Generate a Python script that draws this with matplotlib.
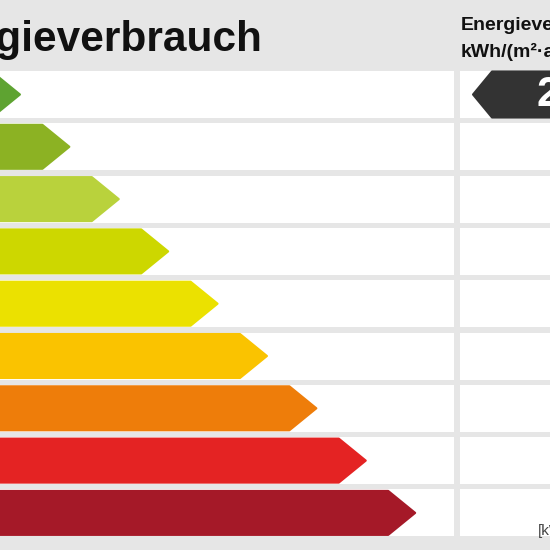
import matplotlib.pyplot as plt
from matplotlib.patches import Polygon, Rectangle

# energy classes, top to bottom
classes = ["A+", "A", "B", "C", "D", "E", "F", "G", "H"]
class_colors = ["#5ea331", "#8cb223", "#b9d23c", "#cdd700", "#ebe100",
                "#fac300", "#ee7d0a", "#e42323", "#a51928"]
marker_class = "A+"
marker_value = "2"
title = "Energieverbrauch"
right_header = ["Energieverbrauch", "kWh/(m²·a)"]
unit_label = "[kWh/(m²·a)]"

bg = "#e6e6e6"
row_top0 = 71
row_step = 52.3
row_h = 47
tip_x0 = 20
tip_step = 49.4
tip_w = 27

fig = plt.figure(figsize=(5.5, 5.5), dpi=100)
fig.patch.set_facecolor(bg)
ax = fig.add_axes([0, 0, 1, 1])
ax.set_xlim(0, 550)
ax.set_ylim(550, 0)
ax.axis("off")
ax.set_facecolor(bg)

for i, (cls, col) in enumerate(zip(classes, class_colors)):
    top = row_top0 + i * row_step
    bot = top + row_h
    mid = (top + bot) / 2
    # white cells
    ax.add_patch(Rectangle((-5, top), 459, row_h, facecolor="white", edgecolor="none"))
    ax.add_patch(Rectangle((460, top), 100, row_h, facecolor="white", edgecolor="none"))
    # class arrow
    tip = tip_x0 + i * tip_step
    pts = [(-100, top + 1.5), (tip - tip_w, top + 1.5), (tip, mid),
           (tip - tip_w, bot - 1.5), (-100, bot - 1.5)]
    ax.add_patch(Polygon(pts, closed=True, facecolor=col, edgecolor=col,
                         linewidth=1.5, joinstyle="round"))
    if cls == marker_class:
        mpts = [(473, mid), (492, top + 0.5), (560, top + 0.5),
                (560, bot - 0.5), (492, bot - 0.5)]
        ax.add_patch(Polygon(mpts, closed=True, facecolor="#333333",
                             edgecolor="#333333", linewidth=1.5, joinstyle="round"))
        ax.text(536, mid + 1, marker_value, color="white", fontsize=30,
                fontweight="bold", family="Liberation Sans", ha="left", va="center")

ax.text(262, 51, title, fontsize=30.5, fontweight="bold", family="Liberation Sans",
        ha="right", va="baseline", color="#111111")
ax.text(461, 30, right_header[0], fontsize=14, fontweight="bold",
        family="Liberation Sans", ha="left", va="baseline", color="#111111")
ax.text(461, 57, right_header[1], fontsize=14, fontweight="bold",
        family="Liberation Sans", ha="left", va="baseline", color="#111111")
ax.text(538, 535, unit_label, fontsize=11, family="Liberation Sans",
        ha="left", va="baseline", color="#444444")

fig.savefig("out.png", dpi=100, facecolor=bg)
